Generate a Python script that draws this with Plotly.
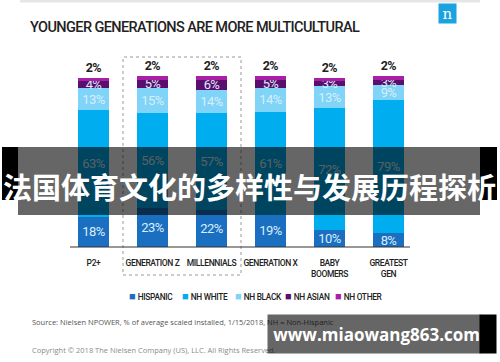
import plotly.graph_objects as go

categories = ["P2+", "GENERATION Z", "MILLENNIALS", "GENERATION X", "BABY<br>BOOMERS", "GREATEST<br>GEN"]
series_names = ["HISPANIC", "NH WHITE", "NH BLACK", "NH ASIAN", "NH OTHER"]
hispanic = [18, 23, 22, 19, 10, 8]
nh_white = [63, 56, 57, 61, 72, 79]
nh_black = [13, 15, 14, 14, 13, 9]
nh_asian = [4, 5, 6, 5, 3, 3]
nh_other = [2, 2, 2, 2, 2, 2]
values = [hispanic, nh_white, nh_black, nh_asian, nh_other]
colors = ["#1a6fc0", "#00adef", "#7fd4f7", "#5b0e6e", "#a920a6"]

COND = "Roboto, Liberation Sans, sans-serif"

W, H = 500, 362
L, R, T, B = 64, 82, 44, 115
PW, PH = W - L - R, H - T - B
base_y = H - B

def px(x):
    return (x - L) / PW

def py(y):
    return (base_y - y) / PH

def tight(s, ls):
    return f"<span style='letter-spacing:{ls}px'>{s}</span>"

fig = go.Figure()
xs = list(range(len(categories)))
for i, (name, vals, col) in enumerate(zip(series_names, values, colors)):
    top = i == len(series_names) - 1
    fig.add_trace(go.Bar(
        x=xs, y=vals, name=name, marker=dict(color=col, line=dict(width=0)),
        text=[tight(f"{v}%", -0.6) for v in vals], texttemplate="%{text}",
        textposition="outside" if top else "inside", textangle=0,
        insidetextanchor="middle", constraintext="none",
        textfont=dict(family=COND, size=12.5 if top else 13,
                      color="#222222" if top else "#d8eefa",
                      weight="bold" if top else "normal"),
        cliponaxis=False, showlegend=False, hoverinfo="skip",
    ))

fig.update_layout(
    width=W, height=H, barmode="stack", bargap=0.46,
    margin=dict(l=L, r=R, t=T, b=B, pad=0),
    paper_bgcolor="white", plot_bgcolor="white",
    showlegend=False,
    xaxis=dict(range=[-0.5, len(categories) - 0.5], tickvals=xs,
               ticktext=[tight(c, -0.4) for c in categories], tickangle=0,
               showgrid=False, zeroline=False, showline=False, ticks="", ticklabelstandoff=9,
               tickfont=dict(family=COND, size=8.5, color="#222222", weight=500)),
    yaxis=dict(range=[0, PH / 1.69], visible=False, fixedrange=True),
)

shapes = []
shapes.append(dict(type="line", xref="paper", yref="paper", x0=px(70), x1=px(410), y0=0, y1=0,
                   line=dict(color="#333333", width=1.2)))
shapes.append(dict(type="rect", xref="x", yref="paper", x0=0.5, x1=2.5, y0=py(275), y1=py(57),
                   line=dict(color="#9a9a9a", width=1, dash="dot"), layer="below"))
shapes.append(dict(type="rect", xref="paper", yref="paper", x0=px(20), x1=px(480), y0=py(0), y1=py(2.5),
                   line=dict(width=0), fillcolor="#e6e6e6"))
shapes.append(dict(type="rect", xref="paper", yref="paper", x0=px(18), x1=px(480), y0=py(215), y1=py(147),
                   line=dict(width=0), fillcolor="rgba(0,0,0,0.6)", layer="above"))
shapes.append(dict(type="rect", xref="paper", yref="paper", x0=px(2), x1=px(18), y0=py(200), y1=py(147),
                   line=dict(width=0), fillcolor="black", layer="above"))
shapes.append(dict(type="rect", xref="paper", yref="paper", x0=px(480), x1=px(497), y0=py(200), y1=py(147),
                   line=dict(width=0), fillcolor="black", layer="above"))

annotations = []
annotations.append(dict(text=tight("YOUNGER GENERATIONS ARE MORE MULTICULTURAL", -0.6), xref="paper", yref="paper",
                        x=px(28), y=py(27), xanchor="left", yanchor="middle", showarrow=False,
                        font=dict(family=COND, size=14.5, color="#222222", weight=500)))
annotations.append(dict(text="n", xref="paper", yref="paper", x=px(447.5), y=py(14), xanchor="center",
                        yanchor="middle", showarrow=False, width=17, height=19, bgcolor="#1aa3e0",
                        borderpad=0, font=dict(family="DejaVu Serif, Liberation Serif, serif", size=15, color="white")))
leg_x = [127, 180, 233, 283, 333]
for name, col, lx in zip(series_names, colors, leg_x):
    annotations.append(dict(text=f"<span style='color:{col};font-size:11px'>■</span> " + tight(name, -0.3),
                            xref="paper", yref="paper",
                            x=px(lx), y=py(296), xanchor="left", yanchor="middle", showarrow=False,
                            font=dict(family=COND, size=8.3, color="#222222", weight=500)))
annotations.append(dict(text="Source: Nielsen NPOWER, % of average scaled installed, 1/15/2018, NH = Non-Hispanic",
                        xref="paper", yref="paper", x=px(30), y=py(322), xanchor="left", yanchor="middle",
                        showarrow=False, font=dict(family="Open Sans, sans-serif", size=7.5, color="#555555")))
annotations.append(dict(text="Copyright © 2018 The Nielsen Company (US), LLC. All Rights Reserved.",
                        xref="paper", yref="paper", x=px(30), y=py(350), xanchor="left", yanchor="middle",
                        showarrow=False, font=dict(family="Open Sans, sans-serif", size=7.5, color="#8a8a8a")))
annotations.append(dict(text="<b>法国体育文化的多样性与发展历程探析</b>", xref="paper", yref="paper",
                        x=px(249), y=py(186), xanchor="center", yanchor="middle", showarrow=False,
                        font=dict(family="Noto Sans CJK SC", size=29, color="white")))
annotations.append(dict(text="<b>www.miaowang863.com</b>", xref="paper", yref="paper",
                        x=px(267), y=py(334), xanchor="left", yanchor="middle", showarrow=False,
                        width=212, height=38, bgcolor="rgba(0,0,0,0.6)", borderpad=0, align="right",
                        font=dict(family="Open Sans, sans-serif", size=17, color="white")))
annotations.append(dict(text=" ", xref="paper", yref="paper",
                        x=px(479), y=py(334), xanchor="left", yanchor="middle", showarrow=False,
                        width=16, height=38, bgcolor="black", borderpad=0,
                        font=dict(size=10)))

fig.update_layout(shapes=shapes, annotations=annotations)
fig.write_html("out.html", config={"displayModeBar": False},
               post_script="document.body.style.margin='0';")
